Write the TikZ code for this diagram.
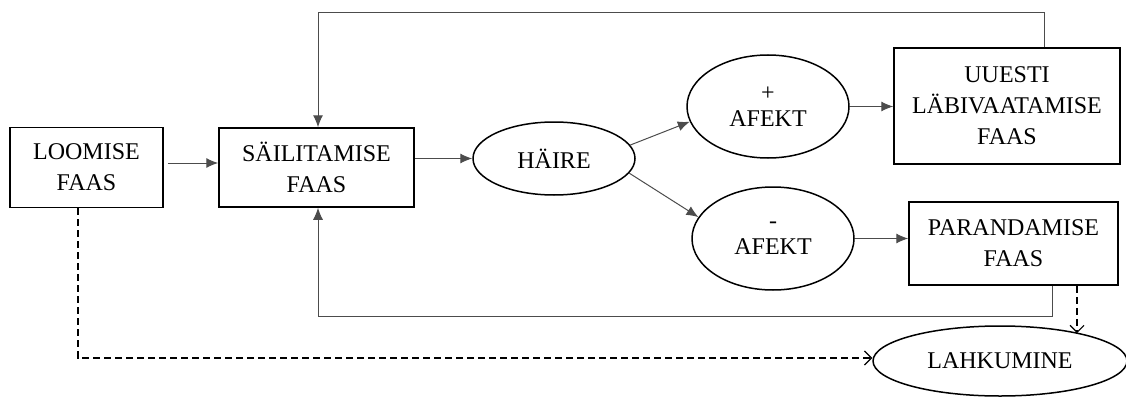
\documentclass[tikz,border=0pt]{standalone}
\usepackage{fontspec}
\setmainfont{Liberation Serif}
\usetikzlibrary{shapes.geometric,arrows.meta}
\begin{document}
\begin{tikzpicture}[x=1pt,y=-1pt,
  every node/.style={font=\fontsize{24}{31}\selectfont, align=center, inner sep=0pt},
  box/.style={draw=black, line width=1.5pt, rectangle},
  oval/.style={draw=black, line width=1.5pt, ellipse},
  conn/.style={draw=black!70, line width=1pt, -{Latex[length=12pt,width=10pt]}},
  dashconn/.style={draw=black, line width=1.3pt, dash pattern=on 7pt off 4pt, -{Straight Barb[length=7pt,width=14pt,line width=1.2pt]}}
]
\useasboundingbox (0,0) rectangle (1126,396);
\node[box, minimum width=153pt, minimum height=80pt] (loom) at (86.5,167.5) {LOOMISE\\FAAS};
\node[box, minimum width=195pt, minimum height=79pt] (sail) at (316.5,167.5) {SÄILITAMISE\\FAAS};
\node[oval, minimum width=162pt, minimum height=73pt] (haire) at (554,158.5) {HÄIRE};
\node[oval, minimum width=162pt, minimum height=103pt] (plus) at (768,106.5) {+\\[-5pt]AFEKT};
\node[oval, minimum width=162pt, minimum height=103pt] (minus) at (773,238.5) {-\\[-5pt]AFEKT};
\node[box, minimum width=226pt, minimum height=116pt] (uuesti) at (1007,106) {UUESTI\\LÄBIVAATAMISE\\FAAS};
\node[box, minimum width=209pt, minimum height=83pt] (paran) at (1013.5,243.5) {PARANDAMISE\\FAAS};
\node[oval, minimum width=254pt, minimum height=70pt] (lahk) at (1000,361) {LAHKUMINE};
\coordinate (topy) at (0,13);
\coordinate (boty) at (0,316);
\coordinate (uutop) at ([xshift=37pt]uuesti.north);
\coordinate (parbot) at ([xshift=38.5pt]paran.south);
\coordinate (sailtop) at ([xshift=1.5pt]sail.north);
\coordinate (sailbot) at ([xshift=1.5pt]sail.south);

\draw[conn] ([xshift=4pt,yshift=4.5pt]loom.east) -- ([yshift=4.5pt]sail.west);
\draw[conn] (sail.east |- haire) -- (haire.west);
\draw[conn] (haire.10) -- (plus.191);
\draw[conn] (haire.349) -- (minus.164);
\draw[conn] (plus.east) -- (plus.east -| uuesti.west);
\draw[conn] (minus.east) -- (minus.east -| paran.west);
\draw[conn] (uutop) -- (uutop |- topy) -- (sailtop |- topy) -- (sailtop);
\draw[conn] (parbot) -- (parbot |- boty) -- (sailbot |- boty) -- (sailbot);
\draw[dashconn] ([xshift=63.5pt]paran.south) -- ([xshift=77pt,yshift=27.8pt]lahk.center);
\draw[dashconn] ([xshift=-8.5pt]loom.south) |- ([yshift=3pt]lahk.west);
\end{tikzpicture}
\end{document}
